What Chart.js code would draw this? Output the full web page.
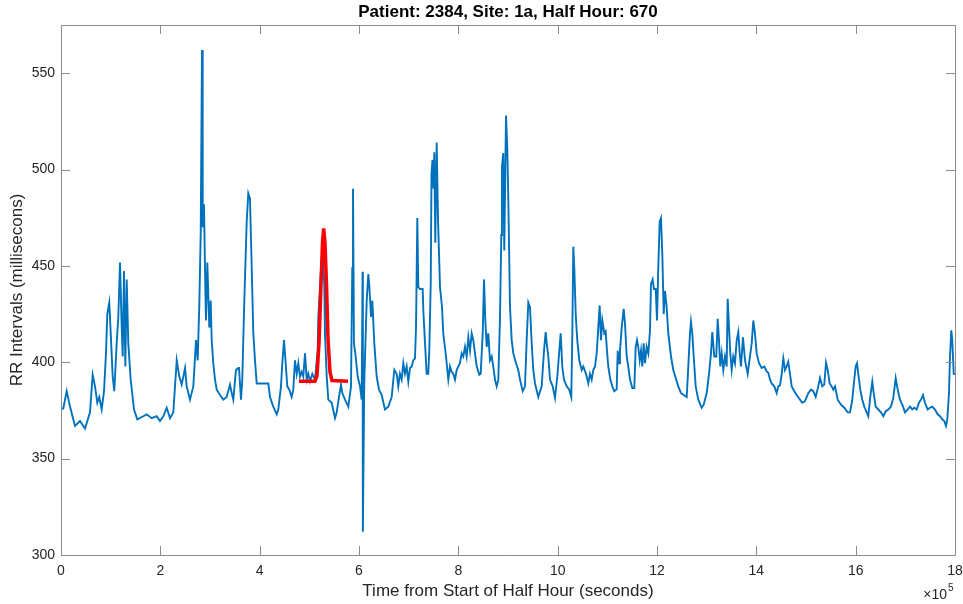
<!DOCTYPE html>
<html>
<head>
<meta charset="utf-8">
<title>RR Intervals</title>
<script src="https://cdn.jsdelivr.net/npm/chart.js@4.4.1/dist/chart.umd.min.js"></script>
<style>
  html, body { margin: 0; padding: 0; background: #fff; }
  #wrap { width: 963px; height: 604px; position: relative; }
</style>
</head>
<body>
<div id="wrap"><canvas id="rrChart"></canvas></div>
<script>
const chartTitle = 'Patient: 2384, Site: 1a, Half Hour: 670';
const xAxisTitle = 'Time from Start of Half Hour (seconds)';
const yAxisTitle = 'RR Intervals (millisecons)';

// tick positions (x in seconds, labelled in units of 10^5)
const xTickValues = [0, 200000, 400000, 600000, 800000, 1000000, 1200000, 1400000, 1600000, 1800000];
const yTickValues = [300, 350, 400, 450, 500, 550];

// RR series
const timeSec = [
    0, 4600, 11500, 18100, 28200, 38300, 48300, 58400, 63800, 68500,
    73100, 77100, 81900, 86600, 90600, 93200, 97200, 100100, 104100, 107300,
    112100, 115400, 118800, 122200, 124200, 126800, 129500, 132300, 135500, 140300,
    147000, 153600, 165700, 172500, 182600, 192700, 199300, 206000, 212800, 219500,
    226100, 233000, 238200, 243000, 249700, 253100, 259700, 266400, 271800, 275200,
    278500, 281300, 283900, 285300, 287900, 290500, 291900, 294600, 298600, 301400,
    303400, 306600, 310100, 313500, 320100, 326800, 333600, 340300, 343700, 346900,
    352300, 357000, 358400, 362400, 365000, 369100, 373900, 377100, 380500, 384000,
    387200, 390600, 394000, 417400, 420800, 427400, 434300, 437500, 442900, 445600,
    449000, 452400, 455600, 459700, 464500, 467700, 471100, 474600, 477800, 481200,
    484600, 487800, 491300, 494700, 497900, 501300, 506000, 511400, 516800, 518000,
    523500, 526900, 530100, 531500, 535000, 538200, 545000, 551700, 555100, 559700,
    563800, 566400, 571800, 578500, 583900, 586500, 587900, 589900, 593300, 597400,
    602000, 605400, 607200, 607800, 610500, 615500, 618700, 620700, 624200, 626800,
    630800, 635600, 640300, 645700, 652300, 659000, 665800, 671100, 675900, 679100,
    682500, 686000, 689200, 692600, 696000, 699300, 702700, 706100, 709300, 712700,
    714800, 717400, 719400, 722800, 728200, 729500, 732900, 736300, 739500, 741500,
    744400, 746000, 748000, 750000, 751600, 753600, 756400, 759100, 763100, 767100,
    769700, 775200, 779800, 783200, 786600, 789900, 793300, 796700, 799900, 803300,
    806800, 810000, 813400, 816800, 820100, 823500, 826900, 830100, 833500, 837000,
    842200, 845000, 849100, 851700, 854300, 857100, 860300, 863700, 867200, 870400,
    873800, 877200, 880500, 883900, 886500, 887900, 890500, 892500, 896000, 898600,
    900600, 904000, 907400, 910700, 916100, 920700, 924200, 929600, 934200, 937600,
    940900, 944300, 947700, 950900, 954400, 961000, 967800, 972500, 975900, 977900,
    981100, 984600, 990000, 994600, 999300, 1003300, 1006100, 1009300, 1012700, 1018200,
    1023400, 1027400, 1029500, 1031500, 1033500, 1036300, 1039500, 1043500, 1048400, 1051600,
    1057000, 1061700, 1065100, 1068500, 1071700, 1075200, 1078600, 1081800, 1084600, 1087200,
    1089900, 1093900, 1096700, 1099300, 1101900, 1106000, 1110000, 1114000, 1118800, 1120900,
    1123500, 1125500, 1128900, 1132900, 1135600, 1139000, 1142200, 1145600, 1150300, 1154300,
    1157100, 1159700, 1162300, 1165200, 1167800, 1170400, 1173200, 1175800, 1179200, 1182500,
    1185900, 1187900, 1191300, 1193900, 1197400, 1200000, 1202600, 1205400, 1208000, 1210700,
    1213500, 1216100, 1219500, 1222700, 1228200, 1232800, 1237600, 1242900, 1248300, 1253700,
    1259800, 1263000, 1266400, 1268400, 1271100, 1273900, 1277900, 1283100, 1290000, 1294000,
    1300100, 1304700, 1308700, 1311300, 1315400, 1319400, 1322200, 1324800, 1327400, 1330300,
    1333500, 1336900, 1340300, 1342300, 1345000, 1347600, 1350400, 1353600, 1357000, 1360500,
    1363700, 1366500, 1369100, 1373100, 1377200, 1382600, 1387200, 1390700, 1393900, 1397300,
    1400700, 1405400, 1410800, 1416000, 1420900, 1424100, 1427500, 1430900, 1436200, 1441000,
    1444200, 1447600, 1451100, 1454300, 1457700, 1461100, 1464300, 1467800, 1471200, 1476400,
    1481300, 1487900, 1492500, 1498000, 1504600, 1510100, 1514700, 1519500, 1524700, 1528200,
    1532800, 1536800, 1540300, 1543700, 1547700, 1551700, 1554900, 1558400, 1563800, 1570500,
    1577100, 1583900, 1588600, 1593200, 1597200, 1600000, 1602700, 1605300, 1609300, 1613300,
    1617400, 1622200, 1625400, 1629400, 1633500, 1636300, 1640300, 1645600, 1651000, 1655600,
    1660500, 1665700, 1671100, 1675800, 1680600, 1684600, 1689200, 1693900, 1699300, 1704700,
    1709400, 1714000, 1718000, 1722900, 1727500, 1731500, 1735600, 1739600, 1745000, 1749600,
    1754300, 1759700, 1765100, 1769800, 1774400, 1778400, 1781900, 1784500, 1787900, 1789900,
    1792500, 1794500, 1797400, 1800000
];
const rrMs = [
    376, 376, 385, 377, 367, 369.5, 365.6, 374, 393.5, 387.5,
    379, 382, 375.5, 385, 404.6, 425, 431, 415, 392.6, 385,
    409.8, 423.5, 451.7, 418, 403, 447.4, 397.8, 443, 409.8, 391,
    375.5, 370.4, 372, 373, 371, 372, 369.5, 372, 376.4, 371,
    374, 401, 392.6, 388.4, 397, 387.5, 380.6, 387.5, 411.5, 401,
    430, 467, 562, 470, 482, 440, 421.7, 451.7, 418, 432,
    411.5, 399.5, 391, 385.8, 383, 380.6, 382, 388.4, 384, 380.6,
    396, 397, 397, 380.6, 391, 432, 473, 487.7, 485, 449,
    415, 401, 389, 389, 382, 377, 373, 375.5, 387.5, 399.5,
    411.5, 399.5, 387.5, 385.8, 382, 385.8, 401, 394, 399.5, 392.6,
    395, 392.6, 404.6, 391, 394, 390, 394, 391, 406, 423,
    449, 458, 440, 415, 392.6, 380.6, 379, 371, 374, 382,
    388.4, 384, 380.6, 377, 387.5, 449, 490, 409.8, 403, 392.6,
    387.5, 380.6, 447, 312, 389, 432, 445.7, 440, 423.5, 432,
    409.8, 392.6, 385.8, 383, 375.5, 377, 382, 396, 394, 387.5,
    394, 391, 399.5, 394, 397.8, 390, 397, 397.8, 401, 402,
    418, 474.8, 439, 438, 438, 427, 409.8, 394, 394, 406,
    440.6, 498, 505, 490, 509, 462, 514, 473.8, 439, 428.8,
    415, 403, 391, 397.8, 395, 394, 391, 396, 397.8, 399.5,
    404.6, 403, 408, 403, 413, 406, 415, 411.5, 404.6, 397.8,
    393.5, 394, 415, 443, 421.7, 408, 415, 401, 403, 397.8,
    391, 387.5, 391, 423.5, 466, 501.4, 508.6, 458, 528, 510.5,
    485, 428.8, 411.5, 404.6, 399.5, 396, 391, 385, 387.5, 411.5,
    431, 428.6, 409.8, 396, 389, 382, 387.5, 406, 415.7, 410,
    403, 391, 387.5, 381.5, 392.6, 406, 415, 397.8, 391, 387.5,
    385.8, 382, 415, 460, 449, 425, 411.5, 401, 396, 397.8,
    394, 389, 394, 391, 396, 397.8, 404.6, 418, 429.5, 411.5,
    421.7, 415, 416, 406, 397.8, 391, 387.5, 385, 386, 406,
    399.5, 406, 418, 427.7, 420, 403, 397.8, 391, 386.6, 386.6,
    408, 411.5, 408, 401, 406, 397.8, 409.8, 399.5, 408, 404.6,
    416.6, 440.6, 443, 438, 438, 421.7, 449, 473, 474.8, 456,
    425, 437, 428.6, 415, 403, 396, 391.8, 387.5, 384, 383,
    382, 397.8, 415, 421, 415, 403, 387.5, 380.6, 376.4, 378,
    384, 394, 404.6, 415.7, 403, 403, 422.6, 411.5, 397.8, 404.6,
    396, 403, 397.8, 432.9, 418, 404.6, 396, 403, 399.5, 411.5,
    415.7, 404.6, 397.8, 413, 401, 394, 403, 409.8, 421.7, 415,
    404.6, 399.5, 397, 397.8, 395.2, 394.5, 391, 389, 387.5, 384,
    387.5, 388, 394, 402, 396, 398, 400.3, 394, 387.5, 385,
    383, 380.6, 379, 379.8, 384, 385.8, 385, 382, 387.5, 391.8,
    387.5, 388.4, 399.8, 396, 389, 387.5, 385.8, 387.5, 380.6, 378,
    376.4, 374, 374, 380.6, 391, 397.8, 399.5, 394, 385.8, 380.6,
    377, 374, 372, 382, 390, 384, 377, 375.5, 374, 372,
    374.6, 375.5, 377, 381.5, 391.8, 385.8, 380.6, 378, 374, 375.5,
    377, 375.5, 376.4, 375.5, 379, 380.6, 383, 379, 375.5, 376.4,
    377, 375.5, 373, 372, 370.4, 369.5, 367, 370.4, 384, 403,
    416.6, 411.5, 394, 394
];

// red fitted pulse
const fitTimeSec = [479200, 511400, 515400, 519500, 523500, 526500, 528900, 531500, 534600, 537600, 541600, 545600, 577800];
const fitMs = [390.2, 390.2, 393, 410, 440, 462, 469.4, 462, 440, 412, 395, 390.5, 390.2];

const textColor = '#262626';
const frameColor = '#8c8c8c';
const fontFamily = '"Liberation Sans", Arial, sans-serif';

function toPoints(xs, ys) {
    return xs.map((x, i) => ({ x: x, y: ys[i] }));
}

// box, inward tick marks, title and the x10^5 note, MATLAB style
const matlabFrame = {
    id: 'matlabFrame',
    afterDraw(chart) {
        const { ctx, chartArea: a, scales } = chart;
        const tick = 9;
        ctx.save();
        ctx.strokeStyle = frameColor;
        ctx.lineWidth = 1;
        ctx.beginPath();
        ctx.rect(Math.round(a.left) + 0.5, Math.round(a.top) + 0.5,
                 Math.round(a.right - a.left), Math.round(a.bottom - a.top));
        xTickValues.forEach(v => {
            const px = Math.round(scales.x.getPixelForValue(v)) + 0.5;
            ctx.moveTo(px, a.bottom); ctx.lineTo(px, a.bottom - tick);
            ctx.moveTo(px, a.top); ctx.lineTo(px, a.top + tick);
        });
        yTickValues.forEach(v => {
            const py = Math.round(scales.y.getPixelForValue(v)) + 0.5;
            ctx.moveTo(a.left, py); ctx.lineTo(a.left + tick, py);
            ctx.moveTo(a.right, py); ctx.lineTo(a.right - tick, py);
        });
        ctx.stroke();

        ctx.fillStyle = '#000';
        ctx.font = 'bold 17px ' + fontFamily;
        ctx.textAlign = 'center';
        ctx.textBaseline = 'middle';
        ctx.fillText(chartTitle, (a.left + a.right) / 2, 12);

        ctx.fillStyle = textColor;
        ctx.font = '14px ' + fontFamily;
        ctx.textAlign = 'right';
        ctx.textBaseline = 'alphabetic';
        ctx.fillText('\u00d710', a.right - 8, 599);
        ctx.font = '10px ' + fontFamily;
        ctx.textAlign = 'left';
        ctx.fillText('5', a.right - 7, 591);
        ctx.restore();
    }
};

new Chart(document.getElementById('rrChart'), {
    type: 'line',
    data: {
        datasets: [
            {
                label: 'Fit',
                data: toPoints(fitTimeSec, fitMs),
                borderColor: '#ff0000',
                borderWidth: 3.5,
                pointRadius: 0,
                order: 0
            },
            {
                label: 'RR',
                data: toPoints(timeSec, rrMs),
                borderColor: '#0072bd',
                borderWidth: 1.9,
                pointRadius: 0,
                order: 1
            }
        ]
    },
    options: {
        responsive: true,
        maintainAspectRatio: false,
        animation: false,
        layout: { padding: { top: 25, right: 8, left: 0, bottom: 0 } },
        plugins: {
            legend: { display: false },
            tooltip: { enabled: false },
            title: { display: false }
        },
        scales: {
            x: {
                type: 'linear',
                min: 0,
                max: 1800000,
                afterFit: s => { s.height = 49; s.paddingLeft = 0; s.paddingRight = 0; },
                afterBuildTicks: s => { s.ticks = xTickValues.map(v => ({ value: v })); },
                grid: { display: false, drawTicks: false },
                border: { display: false },
                ticks: {
                    color: textColor,
                    font: { family: fontFamily, size: 14 },
                    padding: 8,
                    maxRotation: 0,
                    autoSkip: false,
                    callback: v => String(v / 100000)
                },
                title: {
                    display: true,
                    text: xAxisTitle,
                    color: textColor,
                    font: { family: fontFamily, size: 17 },
                    padding: { top: 0, bottom: 2 }
                }
            },
            y: {
                type: 'linear',
                min: 300,
                max: 575,
                afterFit: s => { s.width = 61; },
                afterBuildTicks: s => { s.ticks = yTickValues.map(v => ({ value: v })); },
                grid: { display: false, drawTicks: false },
                border: { display: false },
                ticks: {
                    color: textColor,
                    font: { family: fontFamily, size: 14 },
                    padding: 6,
                    autoSkip: false
                },
                title: {
                    display: true,
                    text: yAxisTitle,
                    color: textColor,
                    font: { family: fontFamily, size: 17 },
                    padding: { top: 7, bottom: 0 }
                }
            }
        }
    },
    plugins: [matlabFrame]
});
</script>
</body>
</html>
